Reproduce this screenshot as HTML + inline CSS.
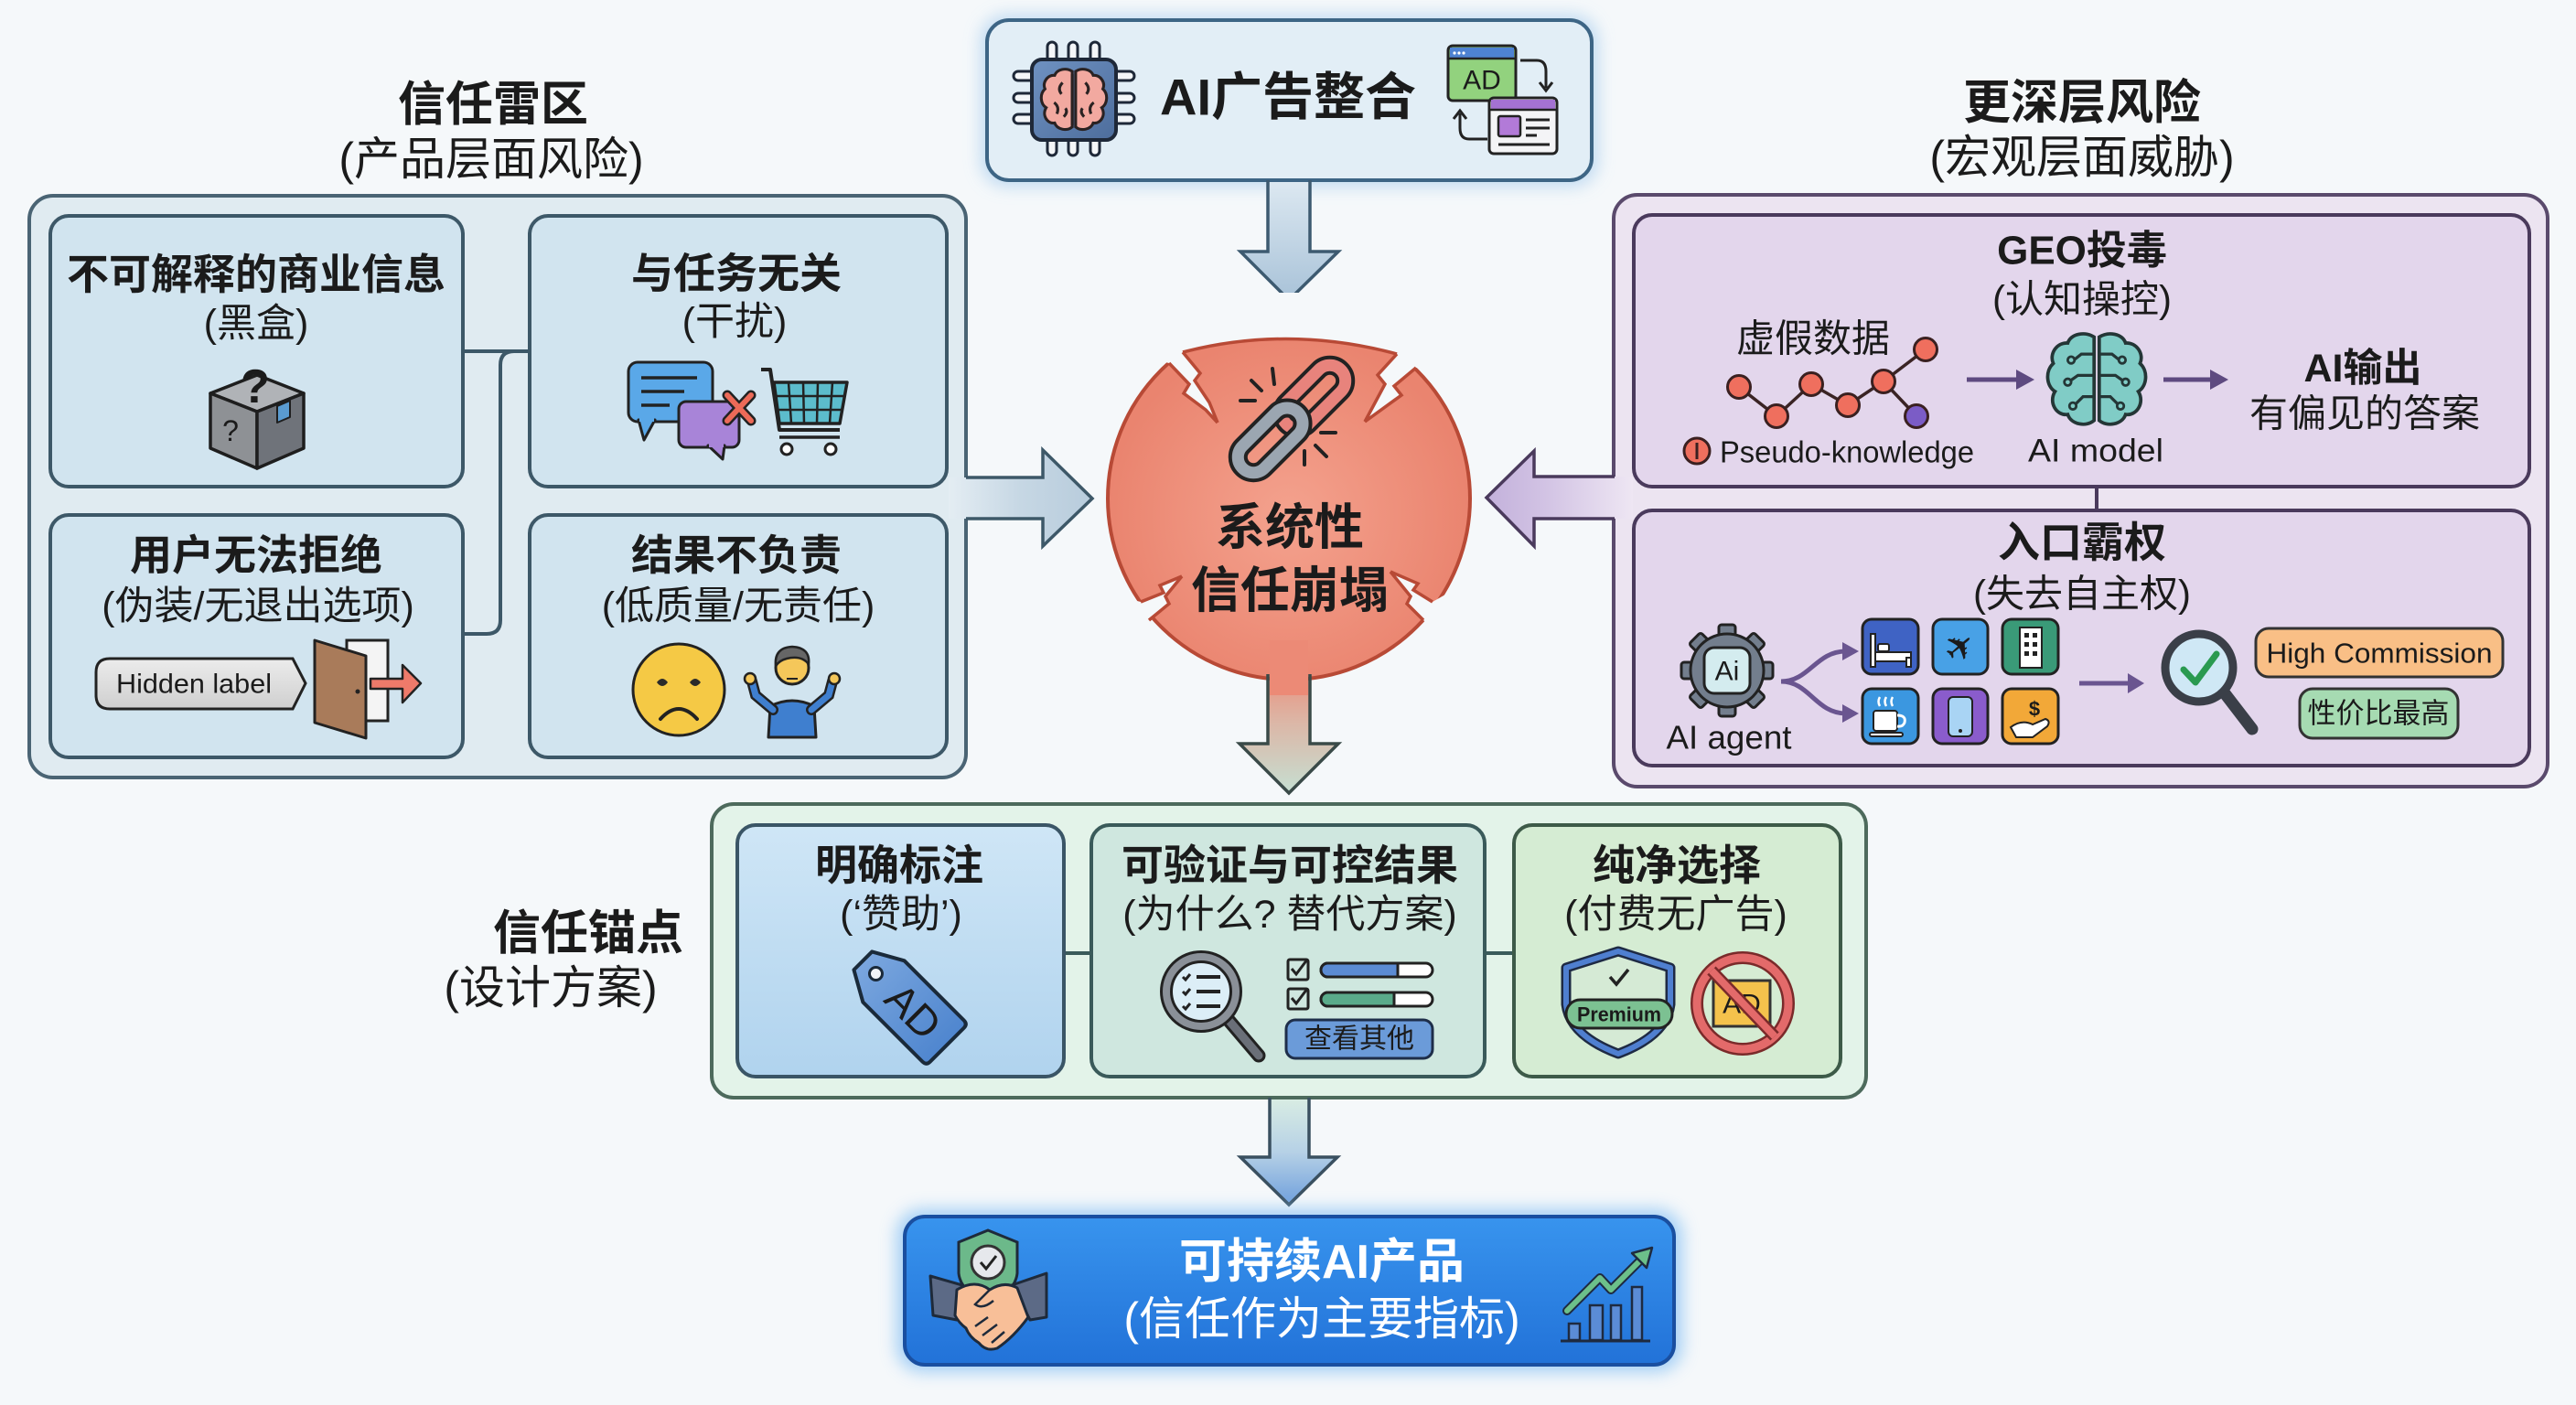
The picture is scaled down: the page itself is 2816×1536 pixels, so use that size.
<!DOCTYPE html>
<html><head><meta charset="utf-8">
<style>
html,body{margin:0;padding:0;background:#f5f8fa;}
svg{display:block;}
text{font-family:"Liberation Sans","Noto Sans CJK SC",sans-serif;fill:#1b1b1b;}
.b{font-weight:700;}
</style></head><body>
<svg width="2816" height="1536" viewBox="0 0 2816 1536" xmlns="http://www.w3.org/2000/svg">
<defs>
 <linearGradient id="gTopArrow" x1="0" y1="0" x2="0" y2="1"><stop offset="0" stop-color="#dce8f1"/><stop offset="1" stop-color="#a8c2d8"/></linearGradient>
 <linearGradient id="gLeftArrow" x1="0" y1="0" x2="1" y2="0"><stop offset="0" stop-color="#e4edf3"/><stop offset="0.5" stop-color="#c6d7e4"/><stop offset="1" stop-color="#b8ccdc"/></linearGradient>
 <linearGradient id="gRightArrow" x1="1" y1="0" x2="0" y2="0"><stop offset="0" stop-color="#eee6f3"/><stop offset="0.6" stop-color="#d2c3e4"/><stop offset="1" stop-color="#c3b1db"/></linearGradient>
 <linearGradient id="gDownArrow" x1="0" y1="0" x2="0" y2="1"><stop offset="0" stop-color="#ec8a76"/><stop offset="0.45" stop-color="#dcb6a6"/><stop offset="1" stop-color="#c6dfd2"/></linearGradient>
 <linearGradient id="gBotArrow" x1="0" y1="0" x2="0" y2="1"><stop offset="0" stop-color="#d8ece3"/><stop offset="0.5" stop-color="#b6d1e6"/><stop offset="1" stop-color="#6f9fdc"/></linearGradient>
 <radialGradient id="gCircle" cx="0.5" cy="0.55" r="0.5"><stop offset="0" stop-color="#f4a28e"/><stop offset="1" stop-color="#ea846f"/></radialGradient>
 <linearGradient id="gFinal" x1="0" y1="0" x2="0" y2="1"><stop offset="0" stop-color="#3894ee"/><stop offset="1" stop-color="#2272d8"/></linearGradient>
 <linearGradient id="gAnchor1" x1="0" y1="0" x2="0" y2="1"><stop offset="0" stop-color="#cfe6f6"/><stop offset="1" stop-color="#b0d3ee"/></linearGradient>
 <linearGradient id="gTag" x1="0" y1="0" x2="0" y2="1"><stop offset="0" stop-color="#7aa6de"/><stop offset="1" stop-color="#4f86cf"/></linearGradient>
 <linearGradient id="gChip" x1="0" y1="0" x2="1" y2="1"><stop offset="0" stop-color="#6f92c2"/><stop offset="1" stop-color="#4d6d9c"/></linearGradient>
 <linearGradient id="gPill" x1="0" y1="0" x2="0" y2="1"><stop offset="0" stop-color="#ececec"/><stop offset="1" stop-color="#cfcfcf"/></linearGradient>
 <clipPath id="cClip"><circle cx="1409" cy="545" r="202"/></clipPath>
 <filter id="blur8" x="-20%" y="-40%" width="140%" height="180%"><feGaussianBlur stdDeviation="9"/></filter>
 <path id="brainL" d="M-3,-50 C-14,-57 -30,-54 -34,-43 C-47,-44 -56,-30 -51,-19 C-61,-10 -59,8 -49,14 C-57,27 -47,43 -34,41 C-30,53 -12,56 -3,48 Z"/>
</defs>

<!-- ============ TITLES ============ -->
<text x="539" y="115" text-anchor="middle" dominant-baseline="central" font-size="52" class="b">信任雷区</text>
<text x="537" y="174" text-anchor="middle" dominant-baseline="central" font-size="50">(产品层面风险)</text>
<text x="2276" y="113" text-anchor="middle" dominant-baseline="central" font-size="52" class="b">更深层风险</text>
<text x="2276" y="172" text-anchor="middle" dominant-baseline="central" font-size="50">(宏观层面威胁)</text>

<!-- ============ TOP BOX ============ -->
<rect x="1072" y="16" width="675" height="188" rx="28" fill="#b7d6f0" filter="url(#blur8)" opacity="0.85"/>
<rect x="1079" y="22" width="661" height="175" rx="24" fill="#e2eef6" stroke="#3d6585" stroke-width="4"/>
<!-- chip -->
<g stroke="#1e2838" stroke-width="3" fill="#f4f6f8">
 <rect x="1145" y="46" width="10" height="24" rx="5"/><rect x="1168" y="46" width="10" height="24" rx="5"/><rect x="1192" y="46" width="10" height="24" rx="5"/>
 <rect x="1145" y="148" width="10" height="22" rx="5"/><rect x="1168" y="148" width="10" height="22" rx="5"/><rect x="1192" y="148" width="10" height="22" rx="5"/>
 <rect x="1108" y="78" width="24" height="10" rx="5"/><rect x="1108" y="102" width="24" height="10" rx="5"/><rect x="1108" y="125" width="24" height="10" rx="5"/>
 <rect x="1216" y="78" width="24" height="10" rx="5"/><rect x="1216" y="102" width="24" height="10" rx="5"/><rect x="1216" y="125" width="24" height="10" rx="5"/>
</g>
<rect x="1128" y="65" width="92" height="88" rx="11" fill="url(#gChip)" stroke="#1e2838" stroke-width="4"/>
<g transform="translate(1174,109) scale(0.62)" fill="#f2a9a0" stroke="#2a2222" stroke-width="5">
 <use href="#brainL"/><use href="#brainL" transform="scale(-1,1)"/>
 <path d="M-3,-45 V45 M-20,-30 Q-30,-20 -22,-10 M-35,5 Q-25,12 -30,25 M20,-30 Q30,-20 22,-10 M35,5 Q25,12 30,25 M-15,15 Q-10,22 -18,30 M15,15 Q10,22 18,30" fill="none"/>
</g>
<text x="1408" y="106" text-anchor="middle" dominant-baseline="central" font-size="56" class="b">AI广告整合</text>
<!-- ad swap icon -->
<rect x="1583" y="50" width="74" height="60" rx="5" fill="#92d27e" stroke="#222" stroke-width="3"/>
<path d="M1585,52 H1655 V64 H1585 Z" fill="#4e82d2"/>
<line x1="1583" y1="64" x2="1657" y2="64" stroke="#222" stroke-width="2.5"/>
<circle cx="1590" cy="58" r="1.6" fill="#fff"/><circle cx="1595" cy="58" r="1.6" fill="#fff"/><circle cx="1600" cy="58" r="1.6" fill="#fff"/>
<text x="1620" y="88" text-anchor="middle" dominant-baseline="central" font-size="30" fill="#1b1b1b">AD</text>
<rect x="1628" y="107" width="74" height="61" rx="5" fill="#f4f4f6" stroke="#222" stroke-width="3"/>
<path d="M1630,109 H1700 V120 H1630 Z" fill="#a472d2"/>
<line x1="1628" y1="120" x2="1702" y2="120" stroke="#222" stroke-width="2.5"/>
<rect x="1638" y="127" width="24" height="22" rx="2" fill="#b27ad8" stroke="#222" stroke-width="2.5"/>
<g stroke="#222" stroke-width="3"><line x1="1668" y1="131" x2="1694" y2="131"/><line x1="1668" y1="140" x2="1694" y2="140"/><line x1="1668" y1="148" x2="1680" y2="148"/><line x1="1638" y1="158" x2="1694" y2="158"/></g>
<path d="M1662,66 H1680 Q1690,66 1690,78 V96" fill="none" stroke="#222" stroke-width="3"/>
<path d="M1683,90 L1690,99 L1697,90" fill="none" stroke="#222" stroke-width="3"/>
<path d="M1626,152 H1606 Q1596,152 1596,140 V124" fill="none" stroke="#222" stroke-width="3"/>
<path d="M1589,130 L1596,121 L1603,130" fill="none" stroke="#222" stroke-width="3"/>

<!-- top arrow -->
<polygon points="1386,199 1432,199 1432,275 1463,275 1409,328 1356,275 1386,275" fill="url(#gTopArrow)"/>
<polyline points="1386,197 1386,275 1356,275 1409,328 1463,275 1432,275 1432,197" fill="none" stroke="#3d5a70" stroke-width="3.5" stroke-linejoin="miter"/>

<!-- ============ LEFT PANEL ============ -->
<rect x="32" y="214" width="1024" height="636" rx="26" fill="#e0ebf1" stroke="#4a6474" stroke-width="4"/>
<path d="M506,384 H579 M579,384 H562 Q547,384 547,399 V678 Q547,693 532,693 H506" fill="none" stroke="#3d5868" stroke-width="4"/>
<g fill="#d1e4ef" stroke="#3d5868" stroke-width="4">
 <rect x="55" y="236" width="451" height="296" rx="20"/>
 <rect x="579" y="236" width="456" height="296" rx="20"/>
 <rect x="55" y="563" width="451" height="265" rx="20"/>
 <rect x="579" y="563" width="456" height="265" rx="20"/>
</g>
<text x="280" y="300" text-anchor="middle" dominant-baseline="central" font-size="46" class="b">不可解释的商业信息</text>
<text x="280" y="354" text-anchor="middle" dominant-baseline="central" font-size="43">(黑盒)</text>
<text x="805" y="299" text-anchor="middle" dominant-baseline="central" font-size="46" class="b">与任务无关</text>
<text x="803" y="352" text-anchor="middle" dominant-baseline="central" font-size="43">(干扰)</text>
<text x="280" y="607" text-anchor="middle" dominant-baseline="central" font-size="46" class="b">用户无法拒绝</text>
<text x="282" y="663" text-anchor="middle" dominant-baseline="central" font-size="43">(伪装/无退出选项)</text>
<text x="805" y="607" text-anchor="middle" dominant-baseline="central" font-size="46" class="b">结果不负责</text>
<text x="807" y="663" text-anchor="middle" dominant-baseline="central" font-size="43">(低质量/无责任)</text>

<!-- mystery box -->
<g stroke="#1e1e1e" stroke-width="3.5" stroke-linejoin="round">
 <polygon points="281,410 332,430 281,450 230,430" fill="#b0b3b7"/>
 <polygon points="230,430 281,450 281,512 230,490" fill="#8e9195"/>
 <polygon points="281,450 332,430 332,490 281,512" fill="#6f737a"/>
 <polygon points="303,444 317,438 317,456 303,462" fill="#5a9bd0" stroke-width="2"/>
</g>
<text x="279" y="440" text-anchor="middle" font-size="52" class="b">?</text>
<text x="252" y="482" text-anchor="middle" font-size="32" fill="#222">?</text>

<!-- chat + cart -->
<rect x="687" y="396" width="92" height="65" rx="10" fill="#5aa8e8" stroke="#222" stroke-width="3"/>
<polygon points="698,459 716,459 704,481" fill="#5aa8e8" stroke="#222" stroke-width="3" stroke-linejoin="round"/>
<line x1="699" y1="459" x2="715" y2="459" stroke="#5aa8e8" stroke-width="4"/>
<g stroke="#222" stroke-width="3.5"><line x1="701" y1="413" x2="762" y2="413"/><line x1="701" y1="428" x2="748" y2="428"/><line x1="701" y1="443" x2="732" y2="443"/></g>
<rect x="742" y="439" width="66" height="50" rx="8" fill="#a884d8" stroke="#222" stroke-width="3"/>
<polygon points="774,487 792,487 790,502" fill="#a884d8" stroke="#222" stroke-width="3" stroke-linejoin="round"/>
<line x1="775" y1="487" x2="791" y2="487" stroke="#a884d8" stroke-width="4"/>
<g stroke-linecap="round"><path d="M795,432 L821,460 M821,432 L795,460" stroke="#222" stroke-width="11"/><path d="M795,432 L821,460 M821,432 L795,460" stroke="#ec6a58" stroke-width="6"/></g>
<path d="M832,404 H842 L852,470 H918" fill="none" stroke="#222" stroke-width="4" stroke-linejoin="round"/>
<polygon points="846,418 926,418 918,463 852,463" fill="#5cbccc" stroke="#222" stroke-width="3.5" stroke-linejoin="round"/>
<g stroke="#222" stroke-width="2.5"><line x1="848" y1="433" x2="923" y2="433"/><line x1="850" y1="448" x2="920" y2="448"/><line x1="862" y1="418" x2="865" y2="463"/><line x1="878" y1="418" x2="879" y2="463"/><line x1="894" y1="418" x2="893" y2="463"/><line x1="910" y1="418" x2="907" y2="463"/></g>
<line x1="852" y1="478" x2="918" y2="478" stroke="#222" stroke-width="3.5"/>
<circle cx="860" cy="491" r="6" fill="#fff" stroke="#222" stroke-width="3"/><circle cx="908" cy="491" r="6" fill="#fff" stroke="#222" stroke-width="3"/>

<!-- hidden label + door -->
<path d="M120,720 H320 L334,747 L320,775 H120 Q105,775 105,760 V735 Q105,720 120,720 Z" fill="url(#gPill)" stroke="#222" stroke-width="3"/>
<text x="212" y="748" text-anchor="middle" dominant-baseline="central" font-size="30" textLength="170" lengthAdjust="spacingAndGlyphs">Hidden label</text>
<rect x="379" y="700" width="45" height="88" fill="#f4f4f4" stroke="#222" stroke-width="3"/>
<polygon points="405,742 440,742 440,727 460,747 440,768 440,753 405,753" fill="#ee7a6a" stroke="#222" stroke-width="2.5" stroke-linejoin="round"/>
<polygon points="344,700 400,717 400,807 344,790" fill="#a97b5a" stroke="#222" stroke-width="3" stroke-linejoin="round"/>
<circle cx="391" cy="756" r="2.5" fill="#222"/>

<!-- sad face + person -->
<circle cx="742" cy="754" r="50" fill="#f5c945" stroke="#222" stroke-width="3"/>
<path d="M718,746 Q724,738 730,746 Q724,754 718,746 Z M754,746 Q760,738 766,746 Q760,754 754,746 Z" fill="#2a2a2a"/>
<path d="M722,786 Q742,764 762,786" fill="none" stroke="#222" stroke-width="4" stroke-linecap="round"/>
<path d="M840,806 L842,772 Q866,760 890,772 L892,806 Z" fill="#3f7fcf" stroke="#222" stroke-width="3" stroke-linejoin="round"/>
<g stroke-linecap="round" fill="none">
 <path d="M845,776 L826,760 L822,745" stroke="#222" stroke-width="12"/><path d="M845,776 L826,760 L822,745" stroke="#3f7fcf" stroke-width="7"/>
 <path d="M887,776 L906,760 L910,745" stroke="#222" stroke-width="12"/><path d="M887,776 L906,760 L910,745" stroke="#3f7fcf" stroke-width="7"/>
</g>
<circle cx="820" cy="742" r="6" fill="#f5c75a" stroke="#222" stroke-width="2.5"/><circle cx="912" cy="742" r="6" fill="#f5c75a" stroke="#222" stroke-width="2.5"/>
<circle cx="866" cy="730" r="18" fill="#f5c75a" stroke="#222" stroke-width="3"/>
<path d="M848,728 Q846,708 866,707 Q886,708 884,726 Q876,716 860,720 Q852,722 848,728 Z" fill="#666" stroke="#222" stroke-width="2.5"/>
<line x1="860" y1="742" x2="872" y2="742" stroke="#222" stroke-width="2"/>

<!-- left arrow -->
<polygon points="1037,522 1140,522 1140,492 1194,545 1140,597 1140,567 1037,567" fill="url(#gLeftArrow)"/>
<polyline points="1056,522 1140,522 1140,492 1194,545 1140,597 1140,567 1056,567" fill="none" stroke="#3d5868" stroke-width="3.5"/>

<!-- ============ RIGHT PANEL ============ -->
<rect x="1764" y="213" width="1021" height="647" rx="26" fill="#ece4f1" stroke="#5a4a6c" stroke-width="4"/>
<line x1="2292" y1="532" x2="2292" y2="558" stroke="#4a3a5c" stroke-width="4"/>
<g fill="#e3d6ec" stroke="#4a3a5c" stroke-width="4">
 <rect x="1786" y="235" width="979" height="297" rx="20"/>
 <rect x="1786" y="558" width="979" height="279" rx="20"/>
</g>
<!-- right arrow -->
<polygon points="1785,521 1677,521 1677,493 1625,544 1677,597 1677,567 1785,567" fill="url(#gRightArrow)"/>
<polyline points="1765,521 1677,521 1677,493 1625,544 1677,597 1677,567 1765,567" fill="none" stroke="#4a3a5c" stroke-width="3.5"/>

<!-- GEO -->
<text x="2276" y="274" text-anchor="middle" dominant-baseline="central" font-size="44" class="b">GEO投毒</text>
<text x="2276" y="327" text-anchor="middle" dominant-baseline="central" font-size="42">(认知操控)</text>
<text x="1982" y="370" text-anchor="middle" dominant-baseline="central" font-size="42">虚假数据</text>
<polyline points="1901,423 1942,455 1980,420 2020,443 2059,417 2105,382" fill="none" stroke="#3a2424" stroke-width="3.5"/>
<line x1="2059" y1="417" x2="2095" y2="455" stroke="#3a2424" stroke-width="3.5"/>
<g fill="#ef6f5e" stroke="#3a2020" stroke-width="3">
 <circle cx="1901" cy="423" r="12.5"/><circle cx="1942" cy="455" r="12.5"/><circle cx="1980" cy="420" r="12.5"/><circle cx="2020" cy="443" r="12.5"/><circle cx="2059" cy="417" r="12.5"/><circle cx="2105" cy="382" r="12.5"/>
</g>
<circle cx="2095" cy="455" r="12.5" fill="#7b5cc6" stroke="#3a2020" stroke-width="3"/>
<circle cx="1855" cy="493" r="14" fill="#ef6f5e" stroke="#3a2020" stroke-width="3"/>
<line x1="1855" y1="484" x2="1855" y2="502" stroke="#3a2020" stroke-width="3"/>
<text x="1880" y="494" dominant-baseline="central" font-size="33" textLength="278" lengthAdjust="spacingAndGlyphs">Pseudo-knowledge</text>
<line x1="2150" y1="415" x2="2210" y2="415" stroke="#5e4a80" stroke-width="5"/>
<polygon points="2204,404 2224,415 2204,426" fill="#5e4a80"/>
<g transform="translate(2292,415) scale(0.93)" fill="#80ccc6" stroke="#243636" stroke-width="4">
 <use href="#brainL"/><use href="#brainL" transform="scale(-1,1)"/>
 <g fill="none" stroke-width="3.5">
  <path d="M-3,-30 H-18 L-28,-22 M-3,-5 H-22 L-32,2 M-3,20 H-16 L-26,30 M3,-30 H18 L28,-22 M3,-5 H22 L32,2 M3,20 H16 L26,30"/>
 </g>
 <g fill="#80ccc6" stroke-width="3"><circle cx="-30" cy="-23" r="4"/><circle cx="-34" cy="3" r="4"/><circle cx="-28" cy="31" r="4"/><circle cx="30" cy="-23" r="4"/><circle cx="34" cy="3" r="4"/><circle cx="28" cy="31" r="4"/></g>
</g>
<text x="2291" y="493" text-anchor="middle" dominant-baseline="central" font-size="35" textLength="148" lengthAdjust="spacingAndGlyphs">AI model</text>
<line x1="2365" y1="415" x2="2422" y2="415" stroke="#5e4a80" stroke-width="5"/>
<polygon points="2416,404 2436,415 2416,426" fill="#5e4a80"/>
<text x="2583" y="403" text-anchor="middle" dominant-baseline="central" font-size="43" class="b">AI输出</text>
<text x="2585" y="452" text-anchor="middle" dominant-baseline="central" font-size="42">有偏见的答案</text>

<!-- 入口霸权 -->
<text x="2276" y="593" text-anchor="middle" dominant-baseline="central" font-size="46" class="b">入口霸权</text>
<text x="2276" y="649" text-anchor="middle" dominant-baseline="central" font-size="42">(失去自主权)</text>
<g transform="translate(1888,733)">
 <g fill="#737e8d" stroke="#222" stroke-width="3">
  <rect x="-9" y="-50" width="18" height="16" rx="3"/><rect x="-9" y="-50" width="18" height="16" rx="3" transform="rotate(45)"/>
  <rect x="-9" y="-50" width="18" height="16" rx="3" transform="rotate(90)"/><rect x="-9" y="-50" width="18" height="16" rx="3" transform="rotate(135)"/>
  <rect x="-9" y="-50" width="18" height="16" rx="3" transform="rotate(180)"/><rect x="-9" y="-50" width="18" height="16" rx="3" transform="rotate(225)"/>
  <rect x="-9" y="-50" width="18" height="16" rx="3" transform="rotate(270)"/><rect x="-9" y="-50" width="18" height="16" rx="3" transform="rotate(315)"/>
  <circle r="40"/>
 </g>
 <rect x="-25" y="-25" width="50" height="50" rx="11" fill="#d4ecef" stroke="#222" stroke-width="3"/>
 <text x="0" y="1" text-anchor="middle" dominant-baseline="central" font-size="30">Ai</text>
</g>
<text x="1890" y="806" text-anchor="middle" dominant-baseline="central" font-size="36" textLength="137" lengthAdjust="spacingAndGlyphs">AI agent</text>
<g fill="none" stroke="#6a5590" stroke-width="5">
 <path d="M1947,745 C1978,745 1985,712 2018,712"/><path d="M1947,745 C1978,745 1985,780 2018,780"/>
</g>
<polygon points="2014,702 2032,712 2014,722" fill="#6a5590"/><polygon points="2014,770 2032,780 2014,790" fill="#6a5590"/>
<g stroke="#222" stroke-width="3">
 <rect x="2036" y="677" width="61" height="60" rx="10" fill="#3f63c4"/>
 <rect x="2113" y="677" width="60" height="60" rx="10" fill="#48a1e6"/>
 <rect x="2189" y="677" width="61" height="60" rx="10" fill="#3a9a78"/>
 <rect x="2036" y="753" width="61" height="60" rx="10" fill="#3b97e0"/>
 <rect x="2113" y="753" width="60" height="60" rx="10" fill="#8a5ccc"/>
 <rect x="2189" y="753" width="61" height="60" rx="10" fill="#f2a838"/>
</g>
<!-- tile icons -->
<g stroke="#222" stroke-width="2" fill="#fff">
 <rect x="2045" y="713" width="44" height="10"/><rect x="2045" y="693" width="5" height="36"/><rect x="2053" y="704" width="12" height="8" rx="2"/><rect x="2084" y="719" width="5" height="10"/>
 <rect x="2208" y="686" width="24" height="44"/>
 <rect x="2048" y="777" width="26" height="22" rx="3"/><path d="M2074,782 Q2084,782 2082,790 Q2080,795 2074,794" fill="none" stroke-width="3" stroke="#fff"/><rect x="2044" y="801" width="36" height="4" rx="2"/>
 <rect x="2130" y="762" width="26" height="43" rx="5" fill="#a9d4f4"/>
 <path d="M2198,795 Q2210,786 2222,792 L2236,786 Q2242,788 2238,794 L2222,806 H2204 Z" fill="#fff"/>
</g>
<g fill="#222"><rect x="2213" y="692" width="5" height="5"/><rect x="2222" y="692" width="5" height="5"/><rect x="2213" y="702" width="5" height="5"/><rect x="2222" y="702" width="5" height="5"/><rect x="2213" y="712" width="5" height="5"/><rect x="2222" y="712" width="5" height="5"/></g>
<g stroke="#fff" stroke-width="2.5" fill="none"><path d="M2055,772 q-3,-5 0,-10 M2062,772 q-3,-5 0,-10 M2069,772 q-3,-5 0,-10"/></g>
<circle cx="2143" cy="799" r="2" fill="#222"/>
<text x="2143" y="708" text-anchor="middle" dominant-baseline="central" font-size="40" style="font-family:'DejaVu Sans',sans-serif" fill="#fff" transform="rotate(-40 2143 708)">✈</text>
<text x="2224" y="775" text-anchor="middle" dominant-baseline="central" font-size="22" class="b" fill="#222">$</text>
<line x1="2273" y1="747" x2="2330" y2="747" stroke="#6a5590" stroke-width="5"/>
<polygon points="2326,736 2344,747 2326,758" fill="#6a5590"/>
<line x1="2432" y1="758" x2="2462" y2="797" stroke="#3a3f48" stroke-width="13" stroke-linecap="round"/>
<circle cx="2404" cy="730" r="37" fill="#cfe8f5" stroke="#3a3f48" stroke-width="9"/>
<polyline points="2387,732 2400,746 2423,715" fill="none" stroke="#2a9a50" stroke-width="7" stroke-linecap="round" stroke-linejoin="round"/>
<rect x="2466" y="687" width="270" height="53" rx="14" fill="#f9bf86" stroke="#333" stroke-width="3"/>
<text x="2601" y="714" text-anchor="middle" dominant-baseline="central" font-size="31" textLength="247" lengthAdjust="spacingAndGlyphs">High Commission</text>
<rect x="2514" y="753" width="173" height="54" rx="14" fill="#a6dbb2" stroke="#333" stroke-width="3"/>
<text x="2600" y="780" text-anchor="middle" dominant-baseline="central" font-size="31">性价比最高</text>

<!-- ============ CENTER CIRCLE ============ -->
<polygon points="1386,725 1432,725 1432,813 1463,813 1409,867 1355,813 1386,813" fill="url(#gDownArrow)"/>
<circle cx="1409" cy="545" r="198" fill="url(#gCircle)" stroke="#b84a36" stroke-width="4"/>
<rect x="1388" y="700" width="42" height="60" fill="#ec8a76"/>
<polyline points="1386,737 1386,813 1355,813 1409,867 1463,813 1432,813 1432,737" fill="none" stroke="#3a4a48" stroke-width="3.5"/>
<!-- flatten top fragment -->
<path d="M1270,392 L1293,385 Q1409,355 1527,387 L1552,398 L1552,320 L1270,320 Z" fill="#f5f8fa"/>
<!-- crack wedges -->
<g clip-path="url(#cClip)" fill="#f5f8fa">
 <polygon points="1258,392 1278,397 1300,420 1294,430 1318,448 1331,462 1322,440 1306,416 1312,408 1293,385 1290,370"/>
 <polygon points="1520,375 1527,387 1506,410 1514,420 1492,461 1532,432 1524,422 1548,402 1560,400"/>
 <polygon points="1235,655 1247,658 1272,648 1268,640 1292,630 1274,652 1278,660 1256,678 1245,690"/>
 <polygon points="1580,650 1566,658 1545,645 1550,638 1520,625 1542,652 1538,660 1556,678 1570,690"/>
</g>
<g fill="none" stroke="#b84a36" stroke-width="3.5" stroke-linejoin="miter">
 <path d="M1293,385 Q1409,355 1527,387"/>
 <polyline points="1278,397 1300,420 1294,430 1318,448 1331,462"/>
 <polyline points="1293,385 1312,408 1306,416 1322,440 1331,462"/>
 <polyline points="1527,387 1506,410 1514,420 1492,461"/>
 <polyline points="1548,402 1524,422 1532,432 1492,461"/>
 <polyline points="1247,658 1272,648 1268,640 1292,630"/>
 <polyline points="1256,678 1278,660 1274,652 1292,630"/>
 <polyline points="1566,658 1545,645 1550,638 1520,625"/>
 <polyline points="1556,678 1538,660 1542,652 1520,625"/>
</g>
<!-- chain -->
<g transform="translate(1412,458) rotate(-45)" fill="none">
 <rect x="-8" y="-17" width="84" height="34" rx="17" stroke="#222" stroke-width="21"/>
 <rect x="-8" y="-17" width="84" height="34" rx="17" stroke="#e8837c" stroke-width="13"/>
 <rect x="-76" y="-17" width="86" height="34" rx="17" stroke="#222" stroke-width="21"/>
 <rect x="-76" y="-17" width="86" height="34" rx="17" stroke="#9ba6b1" stroke-width="13"/>
</g>
<g stroke="#222" stroke-width="4" stroke-linecap="round">
 <line x1="1356" y1="438" x2="1372" y2="438"/><line x1="1368" y1="416" x2="1379" y2="427"/><line x1="1391" y1="403" x2="1393" y2="420"/>
 <line x1="1444" y1="473" x2="1460" y2="473"/><line x1="1438" y1="487" x2="1450" y2="499"/><line x1="1426" y1="493" x2="1426" y2="508"/>
</g>
<text x="1410" y="577" text-anchor="middle" dominant-baseline="central" font-size="54" class="b">系统性</text>
<text x="1410" y="646" text-anchor="middle" dominant-baseline="central" font-size="54" class="b">信任崩塌</text>

<!-- ============ ANCHORS ============ -->
<text x="643" y="1021" text-anchor="middle" dominant-baseline="central" font-size="52" class="b">信任锚点</text>
<text x="602" y="1080" text-anchor="middle" dominant-baseline="central" font-size="50">(设计方案)</text>
<rect x="778" y="879" width="1262" height="321" rx="24" fill="#e3f3e9" stroke="#4d6a5c" stroke-width="4"/>
<path d="M1163,1042 H1193 M1623,1042 H1655" stroke="#3a5a5a" stroke-width="4"/>
<rect x="806" y="902" width="357" height="275" rx="20" fill="url(#gAnchor1)" stroke="#3a5566" stroke-width="4"/>
<rect x="1193" y="902" width="430" height="275" rx="20" fill="#cfe7df" stroke="#3a5a5a" stroke-width="4"/>
<rect x="1655" y="902" width="357" height="275" rx="20" fill="#d5ecd3" stroke="#3d5a48" stroke-width="4"/>
<text x="983" y="946" text-anchor="middle" dominant-baseline="central" font-size="46" class="b">明确标注</text>
<text x="985" y="1000" text-anchor="middle" dominant-baseline="central" font-size="43">(‘赞助’)</text>
<text x="1410" y="946" text-anchor="middle" dominant-baseline="central" font-size="46" class="b">可验证与可控结果</text>
<text x="1410" y="1000" text-anchor="middle" dominant-baseline="central" font-size="43">(为什么? 替代方案)</text>
<text x="1833" y="946" text-anchor="middle" dominant-baseline="central" font-size="46" class="b">纯净选择</text>
<text x="1832" y="1000" text-anchor="middle" dominant-baseline="central" font-size="43">(付费无广告)</text>
<!-- AD tag -->
<g transform="translate(990,1097) rotate(-45)">
 <path d="M-14,-66 L14,-66 L32,-34 L32,58 Q32,64 26,64 L-26,64 Q-32,64 -32,58 L-32,-34 Z" fill="url(#gTag)" stroke="#1a2a3a" stroke-width="4" stroke-linejoin="round"/>
 <circle cx="0" cy="-46" r="7" fill="#f0f4f8" stroke="#1a2a3a" stroke-width="3"/>
 <text x="12" y="0" text-anchor="middle" dominant-baseline="central" font-size="46" fill="#111" transform="rotate(90 0 12) translate(-12,12)">AD</text>
</g>
<!-- magnifier checklist -->
<line x1="1342" y1="1114" x2="1376" y2="1154" stroke="#222" stroke-width="15" stroke-linecap="round"/>
<line x1="1342" y1="1114" x2="1376" y2="1154" stroke="#6a6f78" stroke-width="9" stroke-linecap="round"/>
<circle cx="1313" cy="1084" r="38" fill="#dceef7" stroke="#222" stroke-width="14"/>
<circle cx="1313" cy="1084" r="38" fill="none" stroke="#8a9098" stroke-width="8"/>
<g stroke="#222" stroke-width="3" fill="none">
 <path d="M1293,1068 l3,3 l5,-6 M1293,1084 l3,3 l5,-6 M1293,1100 l3,3 l5,-6"/>
 <path d="M1308,1068 H1334 M1308,1084 H1334 M1308,1100 H1334" stroke-width="4"/>
</g>
<g stroke="#222" stroke-width="3" fill="none">
 <rect x="1408" y="1049" width="22" height="22" rx="2"/><path d="M1412,1059 l5,6 l12,-16"/>
 <rect x="1408" y="1081" width="22" height="22" rx="2"/><path d="M1412,1091 l5,6 l12,-16"/>
</g>
<rect x="1444" y="1053" width="122" height="15" rx="7.5" fill="#fff" stroke="#222" stroke-width="3"/>
<path d="M1451.5,1053 H1528 V1068 H1451.5 A7.5,7.5 0 0 1 1451.5,1053 Z" fill="#5b8bd3" stroke="#222" stroke-width="3"/>
<rect x="1444" y="1085" width="122" height="15" rx="7.5" fill="#fff" stroke="#222" stroke-width="3"/>
<path d="M1451.5,1085 H1524 V1100 H1451.5 A7.5,7.5 0 0 1 1451.5,1085 Z" fill="#5aab8a" stroke="#222" stroke-width="3"/>
<rect x="1406" y="1115" width="160" height="42" rx="10" fill="#6b9bd9" stroke="#1e2e4a" stroke-width="3"/>
<text x="1486" y="1136" text-anchor="middle" dominant-baseline="central" font-size="30" fill="#1a2a40">查看其他</text>
<!-- shield premium -->
<path d="M1769,1040 L1826,1058 L1826,1098 Q1822,1132 1769,1152 Q1716,1132 1712,1098 L1712,1058 Z" fill="#d5ead5" stroke="#1e2a44" stroke-width="11" stroke-linejoin="round"/>
<path d="M1769,1040 L1826,1058 L1826,1098 Q1822,1132 1769,1152 Q1716,1132 1712,1098 L1712,1058 Z" fill="none" stroke="#4f7fd0" stroke-width="6" stroke-linejoin="round"/>
<polyline points="1760,1068 1767,1076 1780,1060" fill="none" stroke="#222" stroke-width="3.5"/>
<rect x="1712" y="1093" width="116" height="31" rx="15.5" fill="#7cc192" stroke="#222" stroke-width="3"/>
<text x="1770" y="1109" text-anchor="middle" dominant-baseline="central" font-size="22" class="b" textLength="92" lengthAdjust="spacingAndGlyphs">Premium</text>
<!-- no ad -->
<rect x="1873" y="1072" width="62" height="50" fill="#f4c24c" stroke="#333" stroke-width="3"/>
<text x="1904" y="1098" text-anchor="middle" dominant-baseline="central" font-size="30" fill="#a07a20">AD</text>
<circle cx="1905" cy="1097" r="50" fill="none" stroke="#7a2a2a" stroke-width="14"/>
<circle cx="1905" cy="1097" r="50" fill="none" stroke="#e36a6a" stroke-width="9"/>
<line x1="1871" y1="1061" x2="1940" y2="1133" stroke="#7a2a2a" stroke-width="13"/>
<line x1="1871" y1="1061" x2="1940" y2="1133" stroke="#e36a6a" stroke-width="8"/>

<!-- bottom arrow -->
<polygon points="1388,1202 1431,1202 1431,1265 1462,1265 1409,1317 1356,1265 1388,1265" fill="url(#gBotArrow)"/>
<polyline points="1388,1200 1388,1265 1356,1265 1409,1317 1462,1265 1431,1265 1431,1200" fill="none" stroke="#3a5060" stroke-width="3.5"/>

<!-- ============ FINAL BOX ============ -->
<rect x="980" y="1322" width="859" height="178" rx="28" fill="#8ec4f4" filter="url(#blur8)" opacity="0.8"/>
<rect x="989" y="1330" width="841" height="162" rx="22" fill="url(#gFinal)" stroke="#1a4fa0" stroke-width="4"/>
<text x="1445" y="1380" text-anchor="middle" dominant-baseline="central" font-size="52" class="b" fill="#fff" style="fill:#fff">可持续AI产品</text>
<text x="1445" y="1442" text-anchor="middle" dominant-baseline="central" font-size="50" style="fill:#fff">(信任作为主要指标)</text>
<!-- handshake -->
<path d="M1080,1345 L1112,1358 L1112,1392 Q1110,1412 1080,1425 Q1050,1412 1048,1392 L1048,1358 Z" fill="#6cb98a" stroke="#1e2a3a" stroke-width="3"/>
<circle cx="1080" cy="1380" r="18" fill="#e6e8ec" stroke="#333" stroke-width="3"/>
<polyline points="1072,1380 1078,1387 1089,1373" fill="none" stroke="#222" stroke-width="3"/>
<polygon points="1017,1395 1052,1405 1046,1443 1020,1438" fill="#5c6a86" stroke="#1e2a3a" stroke-width="3" stroke-linejoin="round"/>
<polygon points="1106,1405 1144,1392 1144,1440 1126,1443" fill="#5c6a86" stroke="#1e2a3a" stroke-width="3" stroke-linejoin="round"/>
<path d="M1046,1410 Q1066,1398 1082,1410 Q1098,1400 1112,1408 L1124,1440 Q1108,1462 1090,1474 Q1078,1478 1070,1468 Q1060,1462 1056,1452 Q1048,1446 1044,1438 Z" fill="#f8bf98" stroke="#1e2a3a" stroke-width="3" stroke-linejoin="round"/>
<path d="M1082,1410 L1066,1426 Q1074,1432 1086,1422 M1066,1450 L1080,1440 M1074,1460 L1090,1448 M1084,1468 L1098,1456" fill="none" stroke="#1e2a3a" stroke-width="2.5"/>
<!-- chart -->
<g fill="#5b8cd6" stroke="#1e2a40" stroke-width="2.5">
 <rect x="1715" y="1447" width="12" height="18"/><rect x="1738" y="1427" width="14" height="38"/><rect x="1761" y="1427" width="11" height="38"/><rect x="1784" y="1407" width="11" height="58"/>
</g>
<line x1="1706" y1="1466" x2="1804" y2="1466" stroke="#1e2a40" stroke-width="3"/>
<polyline points="1713,1433 1749,1397 1761,1410 1796,1375" fill="none" stroke="#1e2a40" stroke-width="10" stroke-linejoin="round" stroke-linecap="round"/>
<polyline points="1713,1433 1749,1397 1761,1410 1796,1375" fill="none" stroke="#6cc08a" stroke-width="6" stroke-linejoin="round" stroke-linecap="round"/>
<polygon points="1784,1370 1806,1364 1800,1386" fill="#6cc08a" stroke="#1e2a40" stroke-width="2.5" stroke-linejoin="round"/>
</svg>
</body></html>
